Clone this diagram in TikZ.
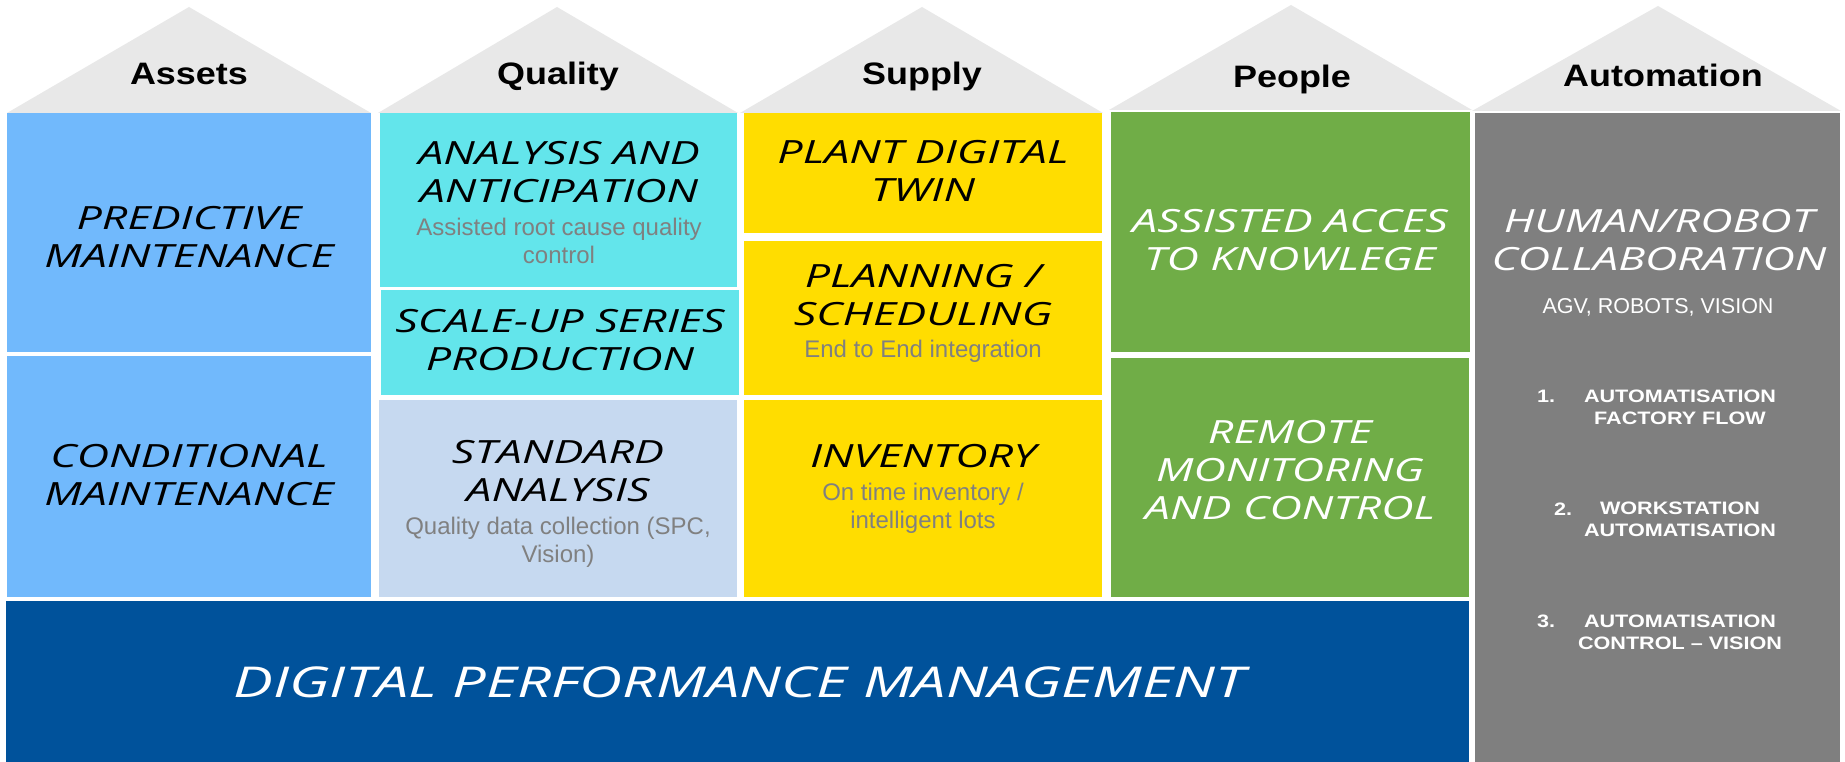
\documentclass[tikz,border=0pt]{standalone}
\usepackage{fontspec}
\setmainfont{Liberation Sans}
\newfontfamily\titlefont{Open Sans}[FakeStretch=1.40]
\newfontfamily\headfont{Liberation Sans}[FakeStretch=1.16]
\newfontfamily\listfont{Liberation Sans}[FakeStretch=1.20]
\definecolor{roofgray}{RGB}{232,232,232}
\definecolor{assetblue}{RGB}{113,185,252}
\definecolor{qcyan}{RGB}{99,229,235}
\definecolor{qpale}{RGB}{198,217,240}
\definecolor{syellow}{RGB}{255,221,0}
\definecolor{pgreen}{RGB}{112,173,71}
\definecolor{agray}{RGB}{127,127,127}
\definecolor{dblue}{RGB}{0,82,155}
\definecolor{subgray}{RGB}{128,128,128}
\tikzset{
  roof/.style={fill=roofgray},
  ttl/.style={font=\titlefont\itshape\fontsize{32}{38}\selectfont, align=center, anchor=base, inner sep=0pt},
  subt/.style={font=\fontsize{24}{28}\selectfont, text=subgray, align=center, anchor=base, inner sep=0pt},
  head/.style={font=\headfont\bfseries\fontsize{31}{36}\selectfont, anchor=base, inner sep=0pt},
  itemtxt/.style={font=\listfont\bfseries\fontsize{18}{22}\selectfont, text=white, align=center, anchor=base, inner sep=0pt},
  itemnum/.style={font=\listfont\bfseries\fontsize{18}{22}\selectfont, text=white, anchor=base west, inner sep=0pt}
}
\begin{document}
\begin{tikzpicture}[x=1pt,y=-1pt]
\useasboundingbox (0,0) rectangle (1845,762);
\fill[white] (0,0) rectangle (1845,762);
% roofs
\fill[roof] (7,113) -- (189,7) -- (371,113) -- cycle;
\fill[roof] (378,113) -- (557,7) -- (738,113) -- cycle;
\fill[roof] (740,113) -- (922,7) -- (1103,113) -- cycle;
\fill[roof] (1109,110) -- (1291,5) -- (1472,110) -- cycle;
\fill[roof] (1472,111) -- (1658,6) -- (1841,111) -- cycle;
% boxes
\fill[assetblue] (7,113) rectangle (371,352);
\fill[assetblue] (7,356) rectangle (371,597);
\fill[qcyan] (380,113) rectangle (737,287);
\fill[qcyan] (381,290) rectangle (739,395);
\fill[qpale] (379,400) rectangle (737,597);
\fill[syellow] (744,113) rectangle (1102,233);
\fill[syellow] (744,241) rectangle (1102,395);
\fill[syellow] (744,400) rectangle (1102,597);
\fill[pgreen] (1111,112) rectangle (1470,352);
\fill[pgreen] (1111,358) rectangle (1469,597);
\fill[dblue] (6,601) rectangle (1469,762);
\fill[agray] (1475,113) rectangle (1840,762);
% headings
\node[head] (hAssets) at (189,85) {Assets};
\node[head] (hQuality) at (558,85) {Quality};
\node[head] (hSupply) at (922,85) {Supply};
\node[head] (hPeople) at (1292,88) {People};
\node[head] (hAuto) at (1663,87) {Automation};
% assets (anchor = baseline of last line)
\node[ttl] (predictive) at (189,268) {PREDICTIVE\\MAINTENANCE};
\node[ttl] (conditional) at (189,505) {CONDITIONAL\\MAINTENANCE};
% quality
\node[ttl] (analysis) at (559,203) {ANALYSIS AND\\ANTICIPATION};
\node[subt] (analysisSub) at (559,263) {Assisted root cause quality\\control};
\node[ttl] (scaleup) at (560,370) {SCALE-UP SERIES\\PRODUCTION};
\node[ttl] (standard) at (558,501) {STANDARD\\ANALYSIS};
\node[subt] (standardSub) at (558,562) {Quality data collection (SPC,\\Vision)};
% supply
\node[ttl] (plant) at (923,202) {PLANT DIGITAL\\TWIN};
\node[ttl] (planning) at (923,325) {PLANNING /\\SCHEDULING};
\node[subt] (planningSub) at (923,357) {End to End integration};
\node[ttl] (inventory) at (923,467) {INVENTORY};
\node[subt] (inventorySub) at (923,528) {On time inventory /\\intelligent lots};
% people
\node[ttl, text=white] (assisted) at (1290,270) {ASSISTED ACCES\\TO KNOWLEGE};
\node[ttl, text=white] (remote) at (1290,519) {REMOTE\\MONITORING\\AND CONTROL};
% base
\node[ttl, text=white, font=\titlefont\itshape\fontsize{42.5}{50}\selectfont] (dpm) at (739,697) {DIGITAL PERFORMANCE MANAGEMENT};
% automation
\node[ttl, text=white] (human) at (1659,270) {HUMAN/ROBOT\\COLLABORATION};
\node[subt, text=white, font=\fontsize{21.5}{26}\selectfont] (agv) at (1658,313) {AGV, ROBOTS, VISION};
\node[itemnum] (n1) at (1537,402) {1.};
\node[itemtxt] (i1) at (1680,424) {AUTOMATISATION\\FACTORY FLOW};
\node[itemnum] (n2) at (1554,515) {2.};
\node[itemtxt] (i2) at (1680,536) {WORKSTATION\\AUTOMATISATION};
\node[itemnum] (n3) at (1537,627) {3.};
\node[itemtxt] (i3) at (1680,649) {AUTOMATISATION\\CONTROL – VISION};
\end{tikzpicture}
\end{document}
